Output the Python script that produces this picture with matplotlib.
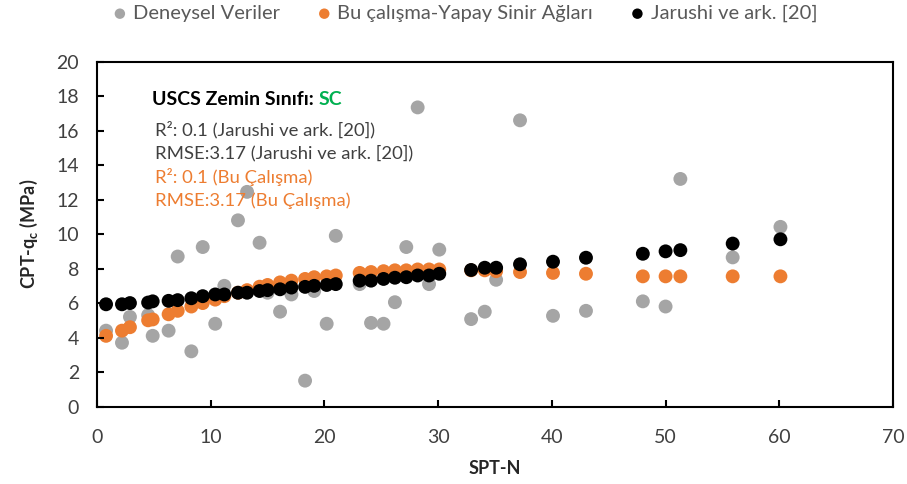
import matplotlib
matplotlib.use("Agg")
import matplotlib.pyplot as plt

plt.rcParams['font.family'] = ['Lato', 'DejaVu Sans']
plt.rcParams['mathtext.fontset'] = 'custom'
plt.rcParams['mathtext.rm'] = 'Lato'
plt.rcParams['mathtext.bf'] = 'Lato:bold'

# SPT-N values (shared by all three series)
spt_n = [0.8, 2.2, 2.9, 4.5, 4.9, 6.3, 7.1, 8.3, 9.3, 10.4,
         11.2, 12.4, 13.2, 14.3, 15.0, 16.1, 17.1, 18.3, 19.1, 20.2,
         21.0, 23.1, 24.1, 25.2, 26.2, 27.2, 28.2, 29.2, 30.1, 32.9,
         34.1, 35.1, 37.2, 40.1, 43.0, 48.0, 50.0, 51.3, 55.9, 60.1]
# experimental CPT-qc
deneysel = [4.4, 3.7, 5.2, 5.3, 4.1, 4.4, 8.7, 3.2, 9.25, 4.8,
            7.0, 10.8, 12.45, 9.5, 6.6, 5.5, 6.5, 1.5, 6.7, 4.8,
            9.9, 7.1, 4.85, 4.8, 6.05, 9.25, 17.35, 7.1, 9.1, 5.07,
            5.5, 7.35, 16.6, 5.26, 5.55, 6.1, 5.8, 13.2, 8.65, 10.42]
# ANN prediction (this study)
ysa = [4.1, 4.4, 4.6, 5.0, 5.05, 5.35, 5.55, 5.8, 6.0, 6.2,
       6.4, 6.6, 6.75, 6.95, 7.05, 7.2, 7.3, 7.4, 7.5, 7.55,
       7.6, 7.75, 7.8, 7.85, 7.9, 7.9, 7.95, 7.95, 7.95, 7.9,
       7.9, 7.85, 7.8, 7.75, 7.7, 7.55, 7.55, 7.55, 7.55, 7.55]
# Jarushi et al. [20]
jarushi = [5.93, 5.93, 6.0, 6.03, 6.1, 6.13, 6.17, 6.28, 6.4, 6.5,
           6.5, 6.6, 6.6, 6.7, 6.75, 6.8, 6.9, 6.94, 7.0, 7.05,
           7.1, 7.3, 7.3, 7.4, 7.47, 7.5, 7.6, 7.6, 7.7, 7.92,
           8.05, 8.05, 8.25, 8.4, 8.63, 8.86, 9.0, 9.07, 9.45, 9.7]

labels = ["Deneysel Veriler", "Bu çalışma-Yapay Sinir Ağları", "Jarushi ve ark. [20]"]
colors = ["#A5A5A5", "#ED7D31", "#000000"]

fig = plt.figure(figsize=(9.07, 4.84), dpi=100)
ax = fig.add_axes([0.1069, 0.1601, 0.8777, 0.7124])

for ys, lab, c in zip([deneysel, ysa, jarushi], labels, colors):
    ax.scatter(spt_n, ys, s=100, color=c, edgecolors='none', label=lab)

ax.set_xlim(0, 70)
ax.set_ylim(0, 20)
ax.set_xticks(range(0, 71, 10))
ax.set_yticks(range(0, 21, 2))
for sp in ax.spines.values():
    sp.set_linewidth(1.5)
    sp.set_color('black')
ax.tick_params(direction='in', length=5, width=1.5, labelsize=14,
               labelcolor='#404040', top=False, right=False)
ax.tick_params(axis='y', pad=13)
ax.tick_params(axis='x', pad=16)

ax.set_xlabel("SPT-N", fontsize=13, fontweight='bold', color='#262626', labelpad=10)
ax.set_ylabel(r"CPT-q$_\mathbf{c}$ (MPa)", fontsize=13, fontweight='bold',
              color='#262626', labelpad=12)

# annotation box
t = ax.text(0.069, 0.889, "USCS Zemin Sınıfı: ", transform=ax.transAxes, fontsize=14,
            fontweight='bold', color='black', va='center', ha='left')
fig.canvas.draw()
bb = t.get_window_extent().transformed(ax.transAxes.inverted())
ax.text(bb.x1, 0.889, "SC", transform=ax.transAxes, fontsize=14,
        fontweight='bold', color='#00B050', va='center', ha='left')

lines = [("R²: 0.1 (Jarushi ve ark. [20])", '#404040', 0.802),
         ("RMSE:3.17 (Jarushi ve ark. [20])", '#404040', 0.735),
         ("R²: 0.1 (Bu Çalışma)", '#ED7D31', 0.666),
         ("RMSE:3.17 (Bu Çalışma)", '#ED7D31', 0.596)]
for txt, c, yy in lines:
    ax.text(0.073, yy, txt, transform=ax.transAxes, fontsize=13.3, color=c,
            va='center', ha='left')

fig.legend(loc='center', bbox_to_anchor=(0.511, 0.972), ncol=3, frameon=False,
           fontsize=14.5, labelcolor='#595959', markerscale=0.75,
           handlelength=1.0, handletextpad=0.15, columnspacing=1.7, borderaxespad=0)

fig.savefig("out.png", dpi=100, facecolor='white')
